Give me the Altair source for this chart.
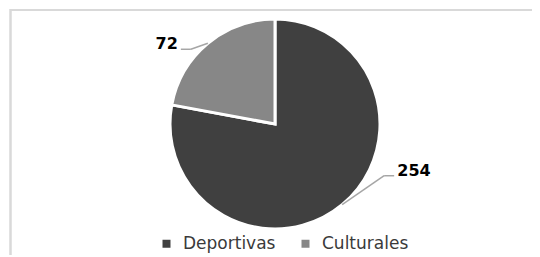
import altair as alt
import pandas as pd

categories = ["Deportivas", "Culturales"]
values = [254, 72]
colors = ["#404040", "#878787"]

df = pd.DataFrame({"category": categories, "value": values, "idx": list(range(len(categories)))})

W, H = 524, 247
CX, CY, R = 267, 115, 105

base = alt.Chart(df)

arc = base.mark_arc(outerRadius=R, stroke="white", strokeWidth=3).encode(
    theta=alt.Theta("value:Q", stack=True),
    order=alt.Order("idx:Q"),
    color=alt.Color(
        "category:N",
        scale=alt.Scale(domain=categories, range=colors),
        sort=categories,
        legend=alt.Legend(
            title=None, orient="none", direction="horizontal",
            legendX=150, legendY=226,
            symbolType="square", symbolSize=64, symbolStrokeWidth=0,
            labelFont="DejaVu Sans", labelFontSize=17, labelColor="#3a3a3a",
            labelOffset=8, columnPadding=21,
        ),
    ),
    x=alt.value(CX),
    y=alt.value(CY),
)

geo = base.transform_joinaggregate(total="sum(value)").transform_window(
    cum="sum(value)", sort=[alt.SortField("idx")], frame=[None, 0]
).transform_calculate(
    a=f"(datum.cum - datum.value/2)/datum.total*2*PI"
).transform_calculate(
    ex=f"{CX} + {R}*sin(datum.a)",
    ey=f"{CY} - {R}*cos(datum.a)",
    s="sin(datum.a) > 0 ? 1 : -1",
).transform_calculate(
    ly="datum.s > 0 ? datum.ey - 29 : datum.ey + 6",
    bx="datum.s > 0 ? datum.ex + 42 : datum.ex - 17",
).transform_calculate(
    hx="datum.bx + datum.s*10",
    lab="toString(datum.value)",
).transform_calculate(
    tx="datum.hx + datum.s*(3 + length(datum.lab)*5.6)",
    ty="datum.ly - 5",
)

lead1 = geo.mark_rule(color="#a6a6a6", strokeWidth=1.5).encode(
    x=alt.X("ex:Q", scale=None), y=alt.Y("ey:Q", scale=None),
    x2="bx:Q", y2="ly:Q",
)
lead2 = geo.mark_rule(color="#a6a6a6", strokeWidth=1.5).encode(
    x=alt.X("bx:Q", scale=None), y=alt.Y("ly:Q", scale=None),
    x2="hx:Q", y2="ly:Q",
)
labels = geo.mark_text(font="DejaVu Sans", fontSize=16, fontWeight="bold", color="#000000",
                       align="center", baseline="middle").encode(
    x=alt.X("tx:Q", scale=None), y=alt.Y("ty:Q", scale=None), text="lab:N",
)

frame_top = base.mark_rule(color="#d9d9d9", strokeWidth=2).encode(
    x=alt.value(2.5), x2=alt.value(W), y=alt.value(1), y2=alt.value(1)
)
frame_left = base.mark_rule(color="#d9d9d9", strokeWidth=2).encode(
    x=alt.value(2.5), x2=alt.value(2.5), y=alt.value(0), y2=alt.value(H)
)

chart = alt.layer(frame_top, frame_left, arc, lead1, lead2, labels).properties(
    width=W, height=H, padding=0,
    autosize=alt.AutoSizeParams(type="fit", contains="padding"),
).configure_view(stroke=None)

chart.save("out.html", embed_options={"renderer": "svg", "actions": False})
